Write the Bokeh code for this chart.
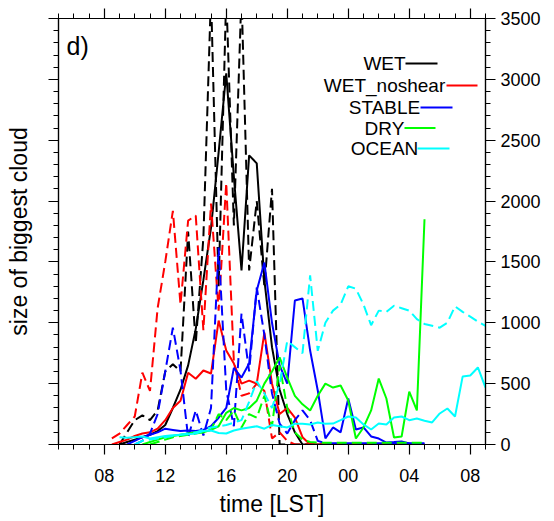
import math
from bokeh.plotting import figure
from bokeh.models import LinearAxis, FixedTicker, Range1d
from bokeh.core.properties import value
from bokeh.embed import file_html
from bokeh.resources import INLINE

N = float("nan")

# ---------------- data ----------------
HOURS_LAND = [8.0, 8.5, 9.0, 9.5, 10.0, 10.5, 11.0, 11.5, 12.0, 12.5, 13.0, 13.5, 14.0, 14.5,
              15.0, 15.5, 16.0, 16.5, 17.0, 17.5, 18.0, 18.5, 19.0, 19.5, 20.0, 20.5, 21.0,
              21.5, 22.0, 22.5, 23.0, 23.5, 24.0, 24.5, 25.0, 25.5, 26.0, 26.5, 27.0, 27.5,
              28.0, 28.5, 29.0]
HOURS_OCEAN = HOURS_LAND + [29.5, 30.0, 30.5, 31.0, 31.5, 32.0, 32.5, 33.0]

WET = [N, N, 0, 20, 40, 60, 80, 110, 160, 300, 450, 650, 950, 1350, 1780, 2400, 3050, 2200,
       1430, 2375, 2310, 1350, 800, 450, 250, 100, 0, 0, 0, 0, 0, 0, 0, 0, 0, 0, 0, 0, 0, 0,
       0, 0, 0]
WET_D = [N, N, 0, 100, 200, 240, 200, 280, 600, 660, 600, 1750, 830, 1700, 3700, 1300, 3700,
         1800, 3700, 1430, 2000, 1300, 2100, 0, 0, 0, 0, 0, 0, 0, 0, 0, 0, 0, 0, 0, 0, 0, 0, 0,
         0, 0, 0]
NOSHEAR = [N, 0, 20, 40, 70, 90, 100, 130, 200, 300, 360, 590, 540, 608, 583, 1018, 772, 665,
           500, 525, 500, 920, 500, 250, 300, 220, 60, 0, 0, 0, 0, 0, 0, 0, 0, 0, 0, 0, 0, 0,
           0, 0, 0]
NOSHEAR_D = [N, 50, 90, 160, 230, 590, 440, 1120, 1500, 1920, 1150, 1840, 1880, 940, 1980,
             1100, 2150, 680, 400, 420, 500, 440, 50, 100, 30, 0, 0, 0, 0, 0, 0, 0, 0, 0, 0, 0,
             0, 0, 0, 0, 0, 0, 0]
STABLE = [N, N, N, 0, 30, 60, 80, 100, 130, 120, 110, 115, 110, 120, 150, 220, 300, 630, 550,
          665, 1265, 1495, 1000, 650, 500, 1183, 1200, 772, 444, 50, 140, 100, 378, 123, 140,
          66, 49, 16, 20, 25, 8, 0, 0]
STABLE_D = [N, N, N, N, 0, 30, 90, 250, 600, 960, 608, 58, 280, 74, 300, 1618, 444, 150, 1076,
            600, 1290, 900, 420, 172, 90, 200, 280, 200, 30, 10, 10, 10, 10, 10, 10, 10, 10,
            10, 10, 10, 10, 10, 10]
DRY = [N, N, N, N, N, 0, 20, 40, 60, 70, 80, 90, 100, 100, 120, 150, 260, 300, 280, 300, 360,
       500, 600, 715, 550, 400, 330, 280, 400, 500, 468, 485, 361, 49, 140, 280, 542, 378, 58,
       66, 435, 280, 1850]
DRY_D = [N, N, N, N, N, N, 0, 20, 40, 60, 70, 80, 90, 100, 120, 250, 200, 280, 140, 250, 220,
         400, 150, 650, 300, 100, 40, 20, 15, 15, 15, 15, 15, 15, 15, 15, 15, 15, 15, 15, 15,
         15, 15]
OCEAN = [N, N, 60, 55, 60, 65, 50, 60, 70, 75, 80, 85, 90, 110, 115, 95, 90, 115, 130, 140,
         150, 130, 160, 150, 140, 170, 170, 165, 180, 170, 172, 200, 230, 222, 165, 123, 172,
         165, 222, 230, 200, 213, 195, 181, 255, 296, 230, 558, 567, 633, 468]
OCEAN_D = [N, N, N, N, 0, 30, 40, 50, 60, 70, 80, 90, 100, 120, 140, 150, 160, 180, 200, 350,
           520, 420, 300, 500, 850, 800, 750, 1390, 770, 1000, 1100, 1150, 1300, 1280, 1150,
           980, 1100, 1090, 1140, 1120, 1100, 1030, 990, 975, 960, 1000, 1135, 1090, 1050,
           1010, 975]

X_TICKS = [8, 12, 16, 20, 24, 28, 32]
X_TICK_LABELS = ["08", "12", "16", "20", "00", "04", "08"]
Y_TICKS = [0, 500, 1000, 1500, 2000, 2500, 3000, 3500]

LEGEND_LABELS = ["WET", "WET_noshear", "STABLE", "DRY", "OCEAN"]
COLORS = ["black", "#FF0000", "#0000FF", "#00FF00", "#00FFFF"]

# ---------------- figure ----------------
FONT = "Liberation Sans"
X0, X1, Y0, Y1 = 5, 33, 0, 3500
FL, FR, FT, FB = 58, 485, 18, 444  # frame pixel box


def X(px):
    return X0 + (px - FL) * (X1 - X0) / (FR - FL)


def Y(py):
    return Y0 + (FB - py) * (Y1 - Y0) / (FB - FT)


p = figure(width=554, height=521, output_backend="svg", toolbar_location=None,
           x_range=Range1d(X0, X1), y_range=Range1d(Y0, Y1),
           min_border_left=FL, min_border_right=554 - FR, min_border_top=FT,
           min_border_bottom=521 - FB)
p.xgrid.visible = False
p.ygrid.visible = False
p.outline_line_color = "black"
p.outline_line_width = 1.2
p.background_fill_color = "white"
p.border_fill_color = "white"

xt = FixedTicker(ticks=X_TICKS, minor_ticks=list(range(5, 34)))
yt = FixedTicker(ticks=Y_TICKS, minor_ticks=list(range(0, 3501, 100)))


def style_axis(ax, labels=True):
    ax.axis_line_color = "black"
    ax.axis_line_width = 1.2
    ax.major_tick_line_color = "black"
    ax.minor_tick_line_color = "black"
    ax.major_tick_line_width = 1.2
    ax.minor_tick_line_width = 1.0
    ax.major_tick_in = 0
    ax.major_tick_out = 10
    ax.minor_tick_in = 0
    ax.minor_tick_out = 5
    ax.major_label_text_font = FONT
    if labels:
        ax.major_label_text_font_size = "18px"
        ax.major_label_text_color = "black"
    else:
        ax.major_label_text_font_size = "1px"
        ax.major_label_text_color = None
    ax.axis_label_text_font = FONT
    ax.axis_label_text_font_size = "23px"
    ax.axis_label_text_font_style = "normal"
    ax.axis_label_text_color = "black"


xa = p.xaxis[0]
xa.ticker = xt
xa.major_label_overrides = {t: l for t, l in zip(X_TICKS, X_TICK_LABELS)}
style_axis(xa)
xa.axis_label = "time [LST]"
xa.major_label_standoff = 14
xa.axis_label_standoff = 6

ya = p.yaxis[0]
ya.ticker = yt
style_axis(ya, labels=False)
ya.axis_label = "size of biggest cloud"
ya.major_label_standoff = 0
ya.axis_label_standoff = 17

top = LinearAxis(ticker=xt)
style_axis(top, labels=False)
top.major_label_standoff = 0
p.add_layout(top, "above")

right = LinearAxis(ticker=yt)
style_axis(right)
right.major_label_standoff = 5
p.add_layout(right, "right")

DASH = "10 5"
series = [
    (HOURS_LAND, WET, WET_D, COLORS[0]),
    (HOURS_LAND, NOSHEAR, NOSHEAR_D, COLORS[1]),
    (HOURS_LAND, STABLE, STABLE_D, COLORS[2]),
    (HOURS_LAND, DRY, DRY_D, COLORS[3]),
    (HOURS_OCEAN, OCEAN, OCEAN_D, COLORS[4]),
]
for hrs, solid, dashed, col in series:
    p.line(hrs, dashed, line_color=col, line_width=2, line_dash=DASH)
    p.line(hrs, solid, line_color=col, line_width=2)

# panel tag
p.text(x=[X(66)], y=[Y(45)], text=["d)"], text_font=value(FONT), text_font_size="25px",
       text_align="left", text_baseline="middle", text_color="black")

# legend (NCL style: label then line to its right)
leg_y = [63, 85, 107, 127.5, 148]
leg_line = [(405, 437), (446, 477), (420, 452), (404, 435), (417, 449)]
for lab, col, ly, (l0, l1) in zip(LEGEND_LABELS, COLORS, leg_y, leg_line):
    p.text(x=[X(384)], y=[Y(ly)], text=[lab], text_font=value(FONT), text_font_size="19px",
           text_align="center", text_baseline="middle", text_color="black")
    p.line([X(l0), X(l1)], [Y(ly), Y(ly)], line_color=col, line_width=2)

open("out.html", "w").write(file_html(p, INLINE))
